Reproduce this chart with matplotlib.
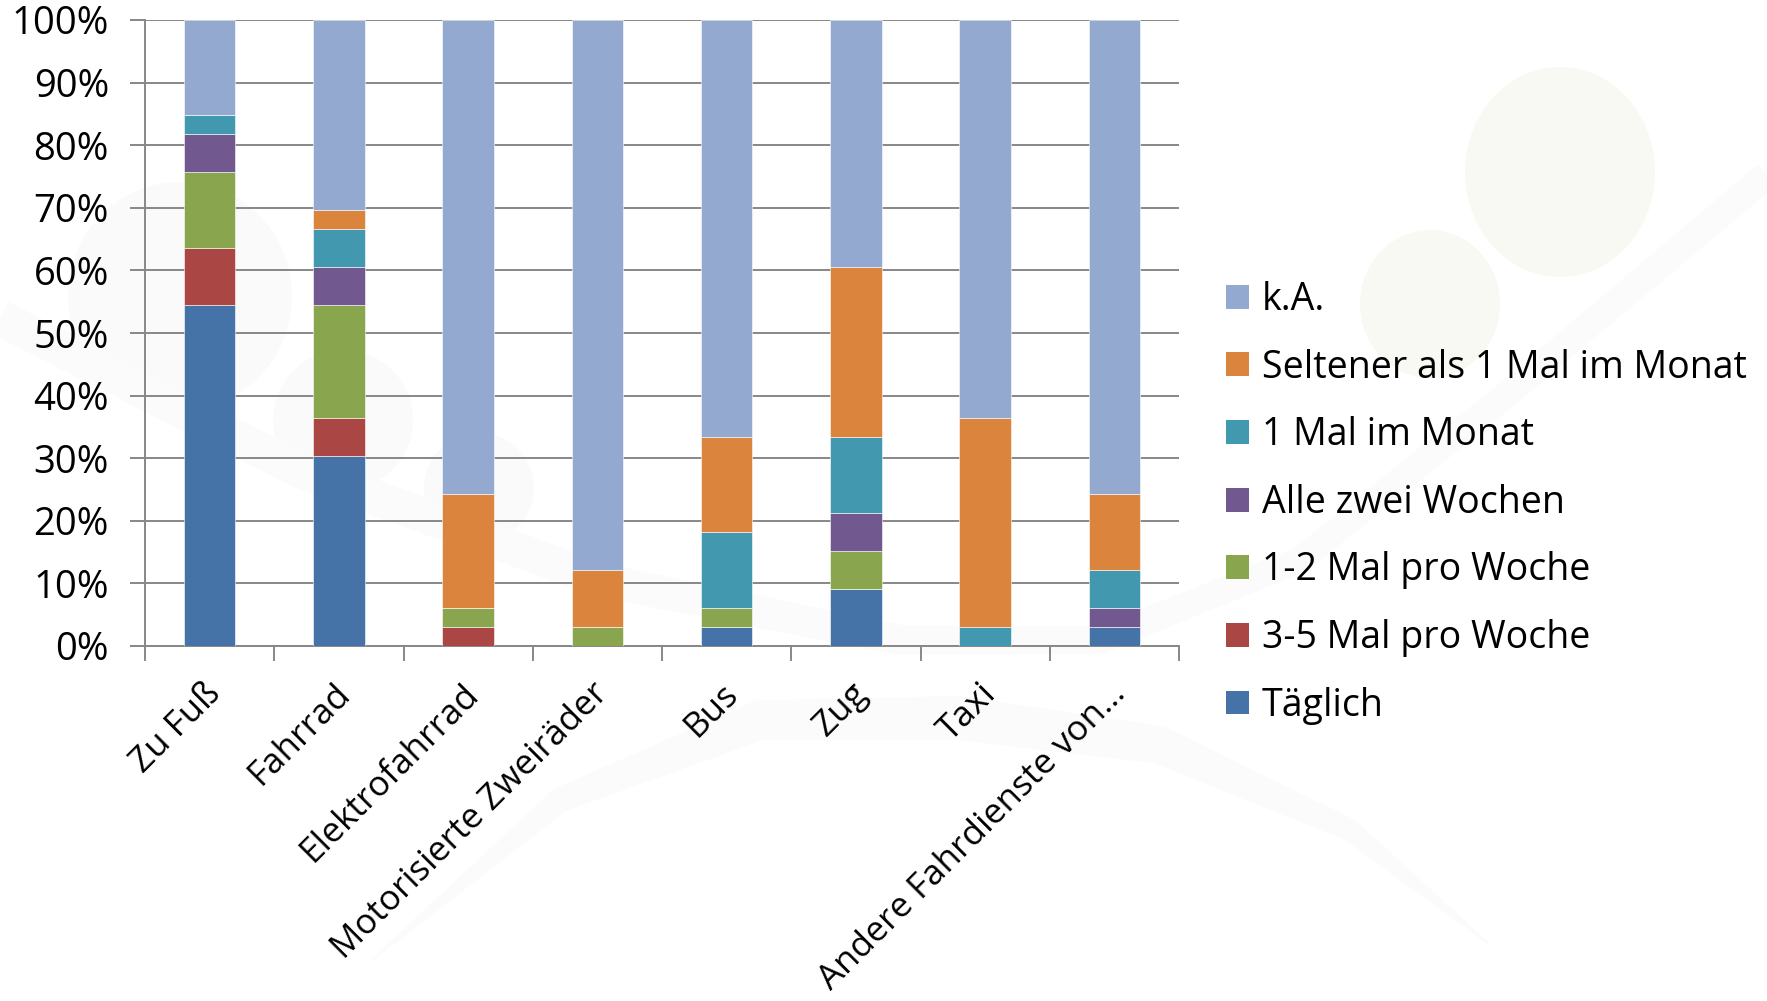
import matplotlib
matplotlib.use("Agg")
import matplotlib.pyplot as plt
from matplotlib.patches import Ellipse, Patch, Polygon
import matplotlib.transforms as mtransforms
import numpy as np

plt.rcParams['font.family'] = ['Open Sans', 'DejaVu Sans']

categories = ["Zu Fuß", "Fahrrad", "Elektrofahrrad", "Motorisierte Zweiräder",
              "Bus", "Zug", "Taxi", "Andere Fahrdienste von…"]
series_names = ["Täglich", "3-5 Mal pro Woche", "1-2 Mal pro Woche", "Alle zwei Wochen",
                "1 Mal im Monat", "Seltener als 1 Mal im Monat", "k.A."]
taeglich   = [54.55, 30.30, 0.00, 0.00, 3.03, 9.09, 0.00, 3.03]
mal_3_5    = [9.09, 6.06, 3.03, 0.00, 0.00, 0.00, 0.00, 0.00]
mal_1_2    = [12.12, 18.18, 3.03, 3.03, 3.03, 6.06, 0.00, 0.00]
zwei_wo    = [6.06, 6.06, 0.00, 0.00, 0.00, 6.06, 0.00, 3.03]
monat_1    = [3.03, 6.06, 0.00, 0.00, 12.12, 12.12, 3.03, 6.06]
seltener   = [0.00, 3.03, 18.18, 9.09, 15.15, 27.27, 33.33, 12.12]
k_a        = [15.15, 30.30, 75.76, 87.88, 66.67, 39.39, 63.64, 75.76]
colors = ["#4572A7", "#AA4643", "#89A54E", "#71588F", "#4198AF", "#DB843D", "#93A9CF"]
yticks = [0, 10, 20, 30, 40, 50, 60, 70, 80, 90, 100]
ytick_labels = ["0%", "10%", "20%", "30%", "40%", "50%", "60%", "70%", "80%", "90%", "100%"]

W, H = 1767, 1001
fig = plt.figure(figsize=(W / 100, H / 100), dpi=100)
fig.patch.set_facecolor("white")

# faint background watermark (decoration only)
bg = fig.add_axes([0, 0, 1, 1], zorder=0)
bg.set_xlim(0, W); bg.set_ylim(H, 0); bg.axis("off")
for (cx, cy, rx, ry, c) in [(1560, 172, 95, 105, "#f8f9f3"), (1430, 304, 70, 74, "#f8f9f3"),
                            (180, 296, 112, 114, "#fafafa"), (343, 420, 70, 70, "#fafafa"),
                            (479, 488, 55, 55, "#fafafa")]:
    bg.add_patch(Ellipse((cx, cy), 2 * rx, 2 * ry, color=c, lw=0))

def band(pts, widths, color):
    pts = np.array(pts, float)
    d = np.gradient(pts, axis=0)
    n = np.stack([-d[:, 1], d[:, 0]], axis=1)
    n /= np.linalg.norm(n, axis=1)[:, None]
    w = np.array(widths, float)[:, None] / 2
    poly = np.vstack([pts + n * w, (pts - n * w)[::-1]])
    bg.add_patch(Polygon(poly, closed=True, color=color, lw=0))

band([(0, 318), (300, 470), (600, 580), (900, 640), (1100, 640), (1300, 560),
      (1500, 400), (1767, 175)], [36, 36, 34, 30, 28, 26, 26, 28], "#fbfbfb")
band([(372, 960), (560, 800), (760, 720), (958, 718), (1160, 745), (1350, 830), (1488, 943)],
     [2, 25, 40, 44, 38, 22, 2], "#fbfbfb")

left, right, top, bottom = 145, 1179, 20, 646
ax = fig.add_axes([left / W, 1 - bottom / H, (right - left) / W, (bottom - top) / H], zorder=1)
ax.set_facecolor("none")

x = np.arange(len(categories))
data = [taeglich, mal_3_5, mal_1_2, zwei_wo, monat_1, seltener, k_a]
base = np.zeros(len(categories))
for vals, col, name in zip(data, colors, series_names):
    v = np.array(vals)
    ax.bar(x, v, bottom=base, width=0.40, color=col, edgecolor="#ffffff", linewidth=0.4,
           label=name, zorder=3)
    base += v

ax.set_xlim(-0.5, len(categories) - 0.5)
ax.set_ylim(0, 100)
ax.set_yticks(yticks)
ax.set_yticklabels(ytick_labels, fontsize=27.5)
ax.yaxis.grid(True, color="#878787", linewidth=1.4, zorder=0)
ax.set_axisbelow(True)

ax.set_xticks(x)
ax.set_xticks(np.arange(len(categories) + 1) - 0.5, minor=True)
ax.tick_params(axis="x", which="minor", length=11, width=1.4, color="#878787")
ax.tick_params(axis="y", length=11, width=1.4, color="#878787", pad=15)
ax.tick_params(axis="x", which="major", length=0, pad=30)
ax.set_xticklabels(categories, rotation=45, ha="right", va="top", rotation_mode="anchor",
                   fontsize=25.2)
offset = mtransforms.ScaledTranslation(-6 / 100, 11 / 100, fig.dpi_scale_trans)
for lab in ax.get_xticklabels():
    lab.set_transform(lab.get_transform() + offset)

for s in ["top", "right"]:
    ax.spines[s].set_visible(False)
for s in ["left", "bottom"]:
    ax.spines[s].set_color("#878787")
    ax.spines[s].set_linewidth(1.4)

handles = [Patch(facecolor=c, edgecolor="none", label=n) for c, n in zip(colors, series_names)]
handles = handles[::-1]
leg = fig.legend(handles=handles, loc="upper left", bbox_to_anchor=(1226 / W, 1 - 281 / H),
                 frameon=False, fontsize=27, handlelength=0.6, handleheight=0.6,
                 handletextpad=0.36, labelspacing=0.79, borderaxespad=0, borderpad=0)

fig.savefig("out.png", dpi=100, facecolor="white")
